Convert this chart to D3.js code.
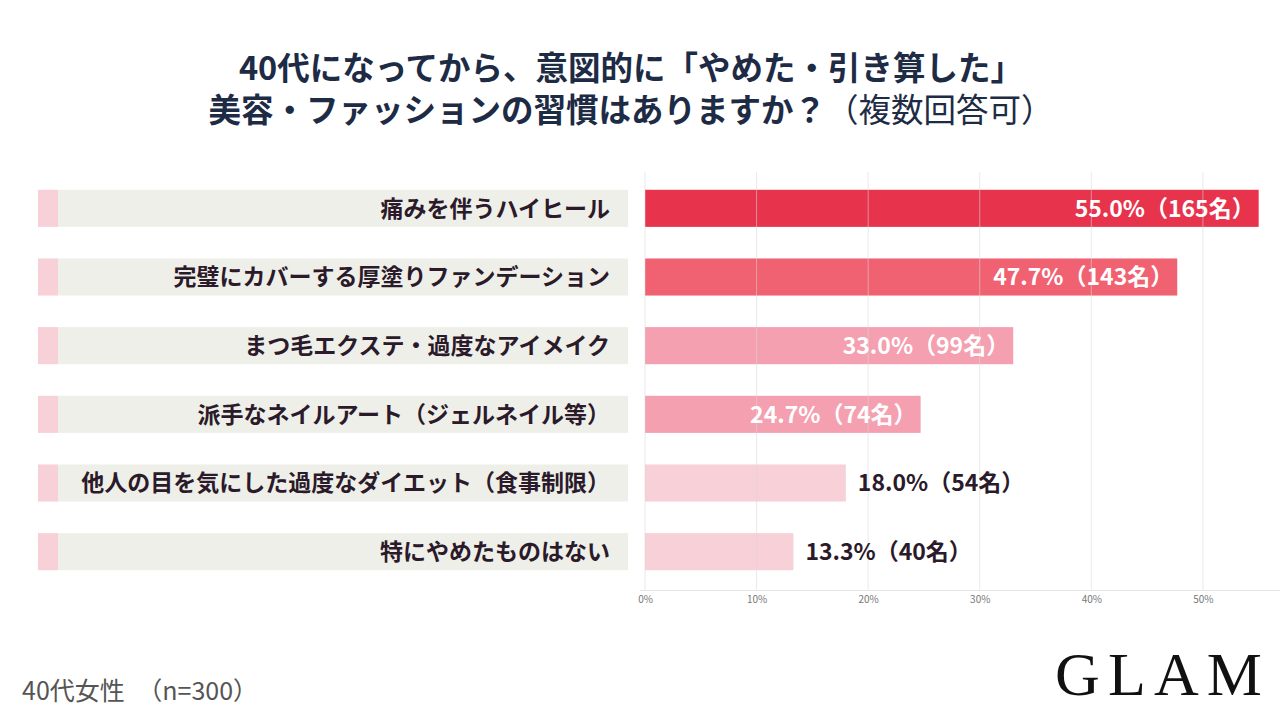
<!DOCTYPE html>
<html><head><meta charset="utf-8">
<script src="https://cdn.jsdelivr.net/npm/d3@7"></script>
<style>
html,body{margin:0;padding:0;background:#fff;}
svg{display:block;font-family:"Noto Sans CJK JP","Noto Sans",sans-serif;}
</style></head>
<body>
<svg id="chart" width="1280" height="720"></svg>
<script>
const titleLine1 = "40代になってから、意図的に「やめた・引き算した」";
const titleLine2Bold = "美容・ファッションの習慣はありますか？";
const titleLine2Normal = "（複数回答可）";
const categories = [
  "痛みを伴うハイヒール",
  "完璧にカバーする厚塗りファンデーション",
  "まつ毛エクステ・過度なアイメイク",
  "派手なネイルアート（ジェルネイル等）",
  "他人の目を気にした過度なダイエット（食事制限）",
  "特にやめたものはない"
];
const percents = [55.0, 47.7, 33.0, 24.7, 18.0, 13.3];
const counts = [165, 143, 99, 74, 54, 40];
const barColors = ["#e8334d", "#f06272", "#f4a0b0", "#f4a0b0", "#f8d0d8", "#f8d0d8"];
const labelInside = [true, true, true, true, false, false];
const tickValues = [0, 10, 20, 30, 40, 50];
const footnote = "40代女性　（n=300）";
const brand = "GLAM";

const svg = d3.select("#chart");

// Title
svg.append("text").attr("x", 631).attr("y", 80).attr("text-anchor", "middle")
  .attr("font-size", 32.5).attr("font-weight", 700).attr("fill", "#1e2b45").text(titleLine1);
const t2 = svg.append("text").attr("x", 631).attr("y", 122).attr("text-anchor", "middle")
  .attr("font-size", 32.5).attr("fill", "#1e2b45");
t2.append("tspan").attr("font-weight", 700).text(titleLine2Bold);
t2.append("tspan").attr("font-weight", 400).text(titleLine2Normal);

const y = d3.scaleBand().domain(categories).range([174, 586]).paddingInner(0.46).paddingOuter(0.23);
const x = d3.scaleLinear().domain([0, 57]).range([645, 1281]);

// Label backgrounds
const rows = svg.append("g");
categories.forEach((c, i) => {
  rows.append("rect").attr("x", 38).attr("y", y(c)).attr("width", 20).attr("height", y.bandwidth()).attr("fill", "#f8d0d8");
  rows.append("rect").attr("x", 58).attr("y", y(c)).attr("width", 570).attr("height", y.bandwidth()).attr("fill", "#efefea");
  rows.append("text").attr("x", 610).attr("y", y(c) + y.bandwidth() / 2).attr("dy", "0.36em")
    .attr("text-anchor", "end").attr("font-size", 23).attr("font-weight", 700).attr("fill", "#2b1a29").text(c);
});

// Bars
svg.append("g").selectAll("rect").data(categories).join("rect")
  .attr("x", x(0)).attr("y", d => y(d)).attr("width", (d, i) => x(percents[i]) - x(0))
  .attr("height", y.bandwidth()).attr("fill", (d, i) => barColors[i]);

// Gridlines over bars
svg.append("g").selectAll("line").data(tickValues).join("line")
  .attr("x1", d => x(d)).attr("x2", d => x(d)).attr("y1", 172).attr("y2", 590)
  .attr("stroke", "#d8d8d8").attr("stroke-opacity", 0.55).attr("stroke-width", 1);

// Axis
const axis = d3.axisBottom(x).tickValues(tickValues).tickFormat(d => d + "%").tickSize(0).tickPadding(6);
const ag = svg.append("g").attr("transform", "translate(0,590)").call(axis);
ag.select(".domain").attr("stroke", "#e6e6e6").attr("d", "M640,0.5H1280");
ag.selectAll("text").attr("font-size", 10).attr("fill", "#777").attr("font-family", "'Noto Sans CJK JP',sans-serif");

// Value labels
svg.append("g").selectAll("text").data(categories).join("text")
  .attr("x", (d, i) => labelInside[i] ? x(percents[i]) - 4 : x(percents[i]) + 12)
  .attr("y", d => y(d) + y.bandwidth() / 2).attr("dy", "0.36em")
  .attr("text-anchor", (d, i) => labelInside[i] ? "end" : "start")
  .attr("font-size", 23).attr("font-weight", 700)
  .attr("fill", (d, i) => labelInside[i] ? "#ffffff" : "#2b1a29")
  .text((d, i) => percents[i].toFixed(1) + "%（" + counts[i] + "名）");

// Footer
svg.append("text").attr("x", 22).attr("y", 700).attr("font-size", 25).attr("fill", "#555").text(footnote);
svg.append("text").attr("x", 1055).attr("y", 695).attr("font-size", 62)
  .attr("font-family", "'Liberation Serif','DejaVu Serif',serif").attr("fill", "#111")
  .attr("textLength", 207).attr("lengthAdjust", "spacing").text(brand);
</script>
</body></html>
